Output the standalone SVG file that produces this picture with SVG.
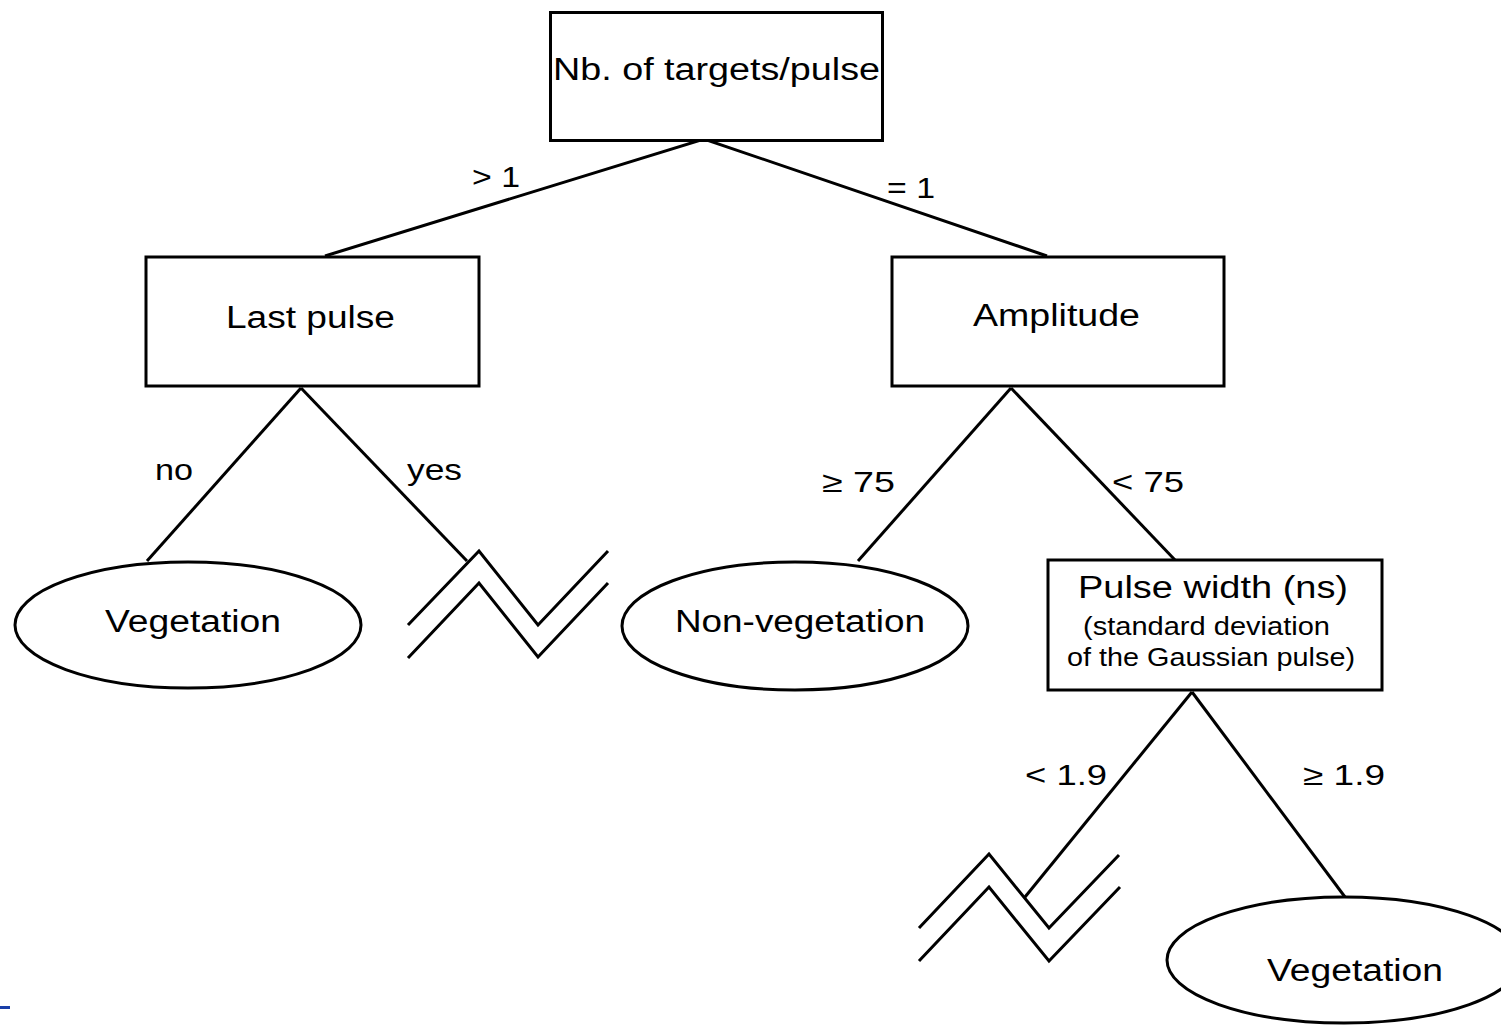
<svg xmlns="http://www.w3.org/2000/svg" width="1501" height="1025" viewBox="0 0 1501 1025">
<style>
.box{fill:#fff;stroke:#000;stroke-width:3}
.ell{fill:#fff;stroke:#000;stroke-width:3}
.ln{fill:none;stroke:#000;stroke-width:3;stroke-linejoin:miter}
text{font-family:"Liberation Sans",Arial,sans-serif;fill:#000}
.t{font-size:31px}
.s{font-size:25px}
.l{font-size:29px}
</style>
<rect x="0" y="0" width="1501" height="1025" fill="#fff"/>
<g id="connectors">
<polyline class="ln" points="325,256 704,139 1047,256"/>
<line class="ln" x1="301" y1="388" x2="147" y2="561"/>
<line class="ln" x1="301" y1="388" x2="467" y2="561"/>
<line class="ln" x1="1011" y1="388" x2="858" y2="561"/>
<line class="ln" x1="1011" y1="388" x2="1175" y2="560"/>
<line class="ln" x1="1192" y1="692" x2="1025" y2="897"/>
<line class="ln" x1="1192" y1="692" x2="1345" y2="897"/>
<text class="l" x="472" y="187" textLength="48" lengthAdjust="spacingAndGlyphs">&gt; 1</text>
<text class="l" x="887" y="198" textLength="48" lengthAdjust="spacingAndGlyphs">= 1</text>
<text class="l" x="155" y="480" textLength="38" lengthAdjust="spacingAndGlyphs">no</text>
<text class="l" x="407" y="480" textLength="55" lengthAdjust="spacingAndGlyphs">yes</text>
<text class="l" x="822" y="492" textLength="73" lengthAdjust="spacingAndGlyphs">≥ 75</text>
<text class="l" x="1112" y="492" textLength="72" lengthAdjust="spacingAndGlyphs">&lt; 75</text>
<text class="l" x="1025" y="785" textLength="82" lengthAdjust="spacingAndGlyphs">&lt; 1.9</text>
<text class="l" x="1303" y="785" textLength="82" lengthAdjust="spacingAndGlyphs">≥ 1.9</text>
</g>
<g id="n-root">
<rect class="box" x="550.5" y="12.5" width="332" height="128"/>
<text class="t" x="553" y="80" textLength="327" lengthAdjust="spacingAndGlyphs">Nb. of targets/pulse</text>
</g>
<g id="n-lastpulse">
<rect class="box" x="146" y="257" width="333" height="129"/>
<text class="t" x="226" y="328" textLength="169" lengthAdjust="spacingAndGlyphs">Last pulse</text>
</g>
<g id="n-amplitude">
<rect class="box" x="892" y="257" width="332" height="129"/>
<text class="t" x="973" y="326" textLength="167" lengthAdjust="spacingAndGlyphs">Amplitude</text>
</g>
<g id="n-veg1">
<ellipse class="ell" cx="188" cy="625" rx="173" ry="63"/>
<text class="t" x="105" y="632" textLength="176" lengthAdjust="spacingAndGlyphs">Vegetation</text>
</g>
<g id="n-cut1">
<polyline class="ln" points="408,625 479,551 538,625 608,551"/>
<polyline class="ln" points="408,658 479,583 538,657 608,583"/>
</g>
<g id="n-nonveg">
<ellipse class="ell" cx="795" cy="626" rx="173" ry="64"/>
<text class="t" x="675" y="632" textLength="250" lengthAdjust="spacingAndGlyphs">Non-vegetation</text>
</g>
<g id="n-pulsewidth">
<rect class="box" x="1048" y="560" width="334" height="130"/>
<text class="t" x="1078" y="598" textLength="270" lengthAdjust="spacingAndGlyphs">Pulse width (ns)</text>
<text class="s" x="1083" y="635" textLength="247" lengthAdjust="spacingAndGlyphs">(standard deviation</text>
<text class="s" x="1067" y="666" textLength="288" lengthAdjust="spacingAndGlyphs">of the Gaussian pulse)</text>
</g>
<g id="n-cut2">
<polyline class="ln" points="919,928 989,854 1049,928 1119,855"/>
<polyline class="ln" points="919,961 989,887 1049,961 1120,887"/>
</g>
<g id="n-veg2">
<ellipse class="ell" cx="1344" cy="960" rx="177" ry="63"/>
<text class="t" x="1267" y="981" textLength="176" lengthAdjust="spacingAndGlyphs">Vegetation</text>
</g>
<rect x="0" y="1006" width="10" height="3" fill="#1a3fa8"/>
</svg>
